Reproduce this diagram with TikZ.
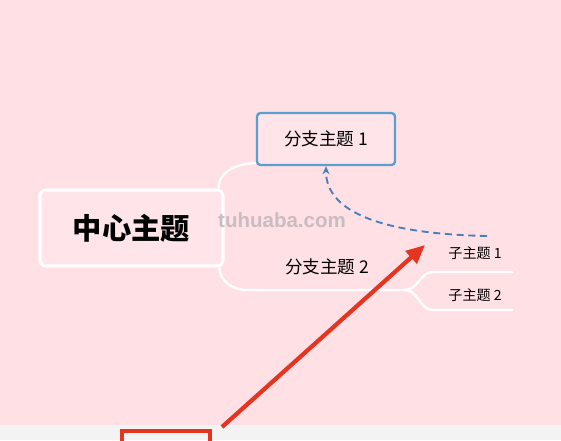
\documentclass[tikz,border=0pt]{standalone}
\usepackage{fontspec}
\newfontfamily\cjk{Noto Sans CJK SC}
\newfontfamily\wmfont{Liberation Sans}
\usetikzlibrary{arrows.meta,calc}
\definecolor{bgpink}{HTML}{FFE0E5}
\definecolor{boxpink}{HTML}{FFE5E9}
\definecolor{bggray}{HTML}{F3F3F3}
\definecolor{topicblue}{HTML}{5A9FCF}
\definecolor{dashblue}{HTML}{4B7FB8}
\definecolor{markred}{HTML}{E53420}
\definecolor{wmgray}{HTML}{C9BDC0}
\begin{document}
\begin{tikzpicture}[x=0.03cm,y=-0.03cm,
  link/.style={draw=white, line width=2pt},
  centerbox/.style={draw=white, line width=2.6pt, fill=boxpink, rounded corners=5pt,
    minimum width=5.49cm, minimum height=2.28cm, font=\cjk\bfseries\fontsize{25}{30}\selectfont},
  branchbox/.style={draw=topicblue, line width=2pt, fill=boxpink, rounded corners=3pt,
    minimum width=4.14cm, minimum height=1.56cm, font=\cjk\fontsize{15}{18}\selectfont},
  branchtext/.style={font=\cjk\fontsize{15}{18}\selectfont},
  subtext/.style={font=\cjk\fontsize{12}{14}\selectfont}]
\useasboundingbox (0,0) rectangle (561,440);
\fill[bgpink] (0,0) rectangle (561,425);
\fill[bggray] (0,425) rectangle (561,440);

\node[centerbox] (center) at (131.5,228) {中心主题};
\node[branchbox] (branch1) at (326,139) {分支主题 1};
\node[branchtext] (branch2) at (327,267) {分支主题 2};
\node[subtext] (sub1) at (475,253) {子主题 1};
\node[subtext] (sub2) at (475,295) {子主题 2};

\node[text=wmgray, font=\wmfont\bfseries\fontsize{17.5}{20}\selectfont] (wm) at (282,220) {tuhuaba.com};

\coordinate (b2a) at (247,290);
\coordinate (split) at (405,290);
\coordinate (sub1a) at (433,272);
\coordinate (sub1b) at (513,272);
\coordinate (sub2a) at (433,310);
\coordinate (sub2b) at (513,310);

\draw[link] ($(center.north east)+(-6,0)$) to[out=90,in=180] ($(branch1.south west)+(0,-3)$);
\draw[link] ($(center.south east)+(-5,0)$) to[out=-90,in=180] (b2a) -- (split);
\draw[link] (split) to[out=0,in=180] (sub1a) -- (sub1b);
\draw[link] (split) to[out=0,in=180] (sub2a) -- (sub2b);

\coordinate (dashend) at (487,236);
\draw[dashblue, line width=1.6pt, dash pattern=on 6pt off 4pt, -{Stealth[length=7pt,width=6pt]}]
  (dashend) .. controls (390,234) and (326,215) .. (branch1.south);

\coordinate (redstart) at (222,427);
\coordinate (redtip) at (425,245);
\draw[markred, line width=3.6pt, -{Triangle[length=16pt,width=14pt]}] (redstart) -- (redtip);
\draw[markred, line width=2.6pt] (122,442) -- (122,431) -- (210,431) -- (210,442);
\end{tikzpicture}
\end{document}
